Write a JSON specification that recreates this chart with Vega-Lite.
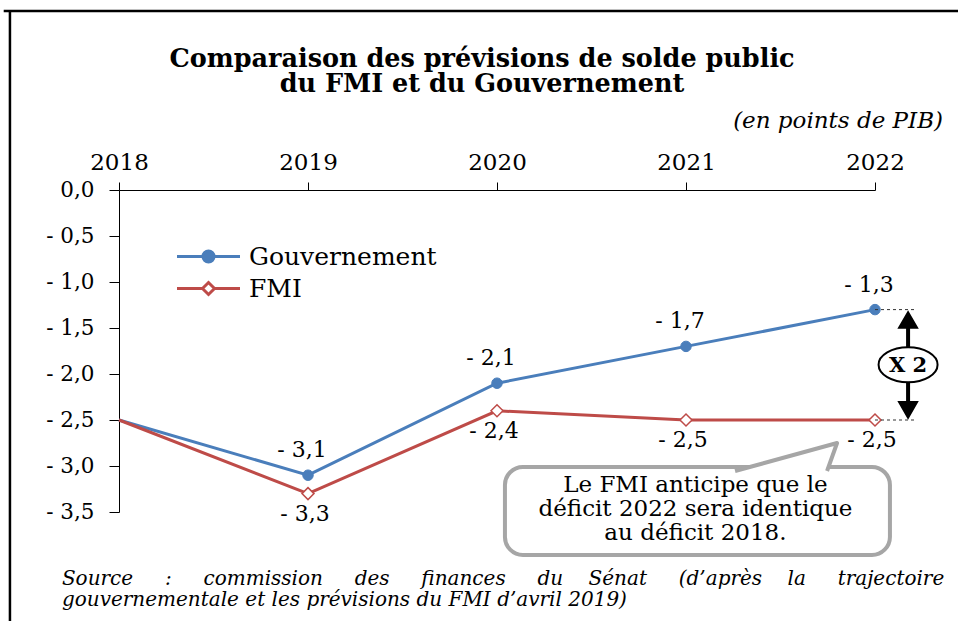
{
  "$schema": "https://vega.github.io/schema/vega-lite/v6.json",
  "width": 756,
  "height": 322,
  "autosize": {"type": "none"},
  "padding": {"left": 119, "top": 190, "right": 83, "bottom": 109},
  "background": "white",
  "title": {
    "text": ["Comparaison des prévisions de solde public", "du FMI et du Gouvernement"],
    "font": "DejaVu Serif",
    "fontWeight": "bold",
    "fontSize": 25.5,
    "lineHeight": 25,
    "anchor": "middle",
    "frame": "group",
    "dx": -15,
    "offset": -88,
    "color": "black"
  },
  "datasets": {
    "series": [
      {"year": 2018, "value": -2.5, "series": "Gouvernement"},
      {"year": 2019, "value": -3.1, "series": "Gouvernement"},
      {"year": 2020, "value": -2.1, "series": "Gouvernement"},
      {"year": 2021, "value": -1.7, "series": "Gouvernement"},
      {"year": 2022, "value": -1.3, "series": "Gouvernement"},
      {"year": 2018, "value": -2.5, "series": "FMI"},
      {"year": 2019, "value": -3.3, "series": "FMI"},
      {"year": 2020, "value": -2.4, "series": "FMI"},
      {"year": 2021, "value": -2.5, "series": "FMI"},
      {"year": 2022, "value": -2.5, "series": "FMI"}
    ]
  },
  "layer": [
    {
      "data": {"values": [
        {"x": 2017.39, "x2": 2022.7, "y": 1.946, "y2": 1.946},
        {"x": 2017.423, "x2": 2017.423, "y": 1.946, "y2": -4.9}
      ]},
      "mark": {"type": "rule", "color": "black", "strokeWidth": 2.5},
      "encoding": {
        "x": {"field": "x", "type": "quantitative", "title": null, "scale": {"domain": [2018, 2022], "nice": false, "zero": false}},
        "x2": {"field": "x2"},
        "y": {"field": "y", "type": "quantitative", "title": null, "scale": {"domain": [-3.5, 0], "nice": false, "zero": false}},
        "y2": {"field": "y2"}
      }
    },
    {
      "data": {"name": "series"},
      "mark": {"type": "line", "strokeWidth": 3},
      "encoding": {
        "x": {
          "field": "year", "type": "quantitative", "title": null,
          "scale": {"domain": [2018, 2022], "nice": false, "zero": false},
          "axis": {
            "orient": "top", "values": [2018, 2019, 2020, 2021, 2022], "format": "d",
            "labelFont": "DejaVu Serif", "labelFontSize": 23, "labelColor": "black",
            "tickSize": 8, "tickColor": "black", "domainColor": "black",
            "labelPadding": 8, "grid": false, "labelFlush": false
          }
        },
        "y": {
          "field": "value", "type": "quantitative", "title": null,
          "scale": {"domain": [-3.5, 0], "nice": false, "zero": false},
          "axis": {
            "values": [0, -0.5, -1, -1.5, -2, -2.5, -3, -3.5], "format": ".1f",
            "labelFont": "DejaVu Serif", "labelFontSize": 21.5, "labelColor": "black",
            "tickSize": 10, "tickColor": "black", "domainColor": "black",
            "labelPadding": 15, "grid": false, "labelFlush": false
          }
        },
        "color": {
          "field": "series", "type": "nominal",
          "scale": {"domain": ["Gouvernement", "FMI"], "range": ["#4A7EBB", "#BE4B48"]},
          "legend": {
            "title": null,
            "orient": "none",
            "legendX": 77,
            "legendY": 54,
            "padding": 0,
            "symbolSize": 400,
            "symbolStrokeWidth": 3,
            "symbolOpacity": 1,
            "labelOffset": 28,
            "labelFont": "DejaVu Serif",
            "labelFontSize": 25,
            "labelColor": "black",
            "rowPadding": 6,
            "labelLimit": 400,
            "encode": {
              "symbols": {
                "update": {
                  "shape": {"signal": "datum.value === 'FMI' ? 'M-3.15,0L-0.6,0M0.6,0L3.15,0M-0.6,0L0,-0.6L0.6,0L0,0.6Z' : 'M-3.15,0L3.15,0M0.55,0A0.55,0.55,0,1,1,-0.55,0A0.55,0.55,0,1,1,0.55,0Z'"},
                  "fill": {"signal": "datum.value === 'FMI' ? 'white' : '#4A7EBB'"},
                  "fillOpacity": {"value": 1}
                }
              }
            }
          }
        }
      }
    },
    {
      "data": {"name": "series"},
      "transform": [{"filter": "datum.series === 'Gouvernement' && datum.year > 2018"}],
      "mark": {"type": "point", "shape": "circle", "filled": true, "fill": "#4A7EBB", "stroke": "#4A7EBB", "strokeWidth": 1, "size": 110, "opacity": 1},
      "encoding": {
        "x": {"field": "year", "type": "quantitative", "title": null, "scale": {"domain": [2018, 2022], "nice": false, "zero": false}},
        "y": {"field": "value", "type": "quantitative", "title": null, "scale": {"domain": [-3.5, 0], "nice": false, "zero": false}}
      }
    },
    {
      "data": {"name": "series"},
      "transform": [{"filter": "datum.series === 'FMI' && datum.year > 2018"}],
      "mark": {"type": "point", "shape": "diamond", "filled": true, "fill": "white", "stroke": "#BE4B48", "strokeWidth": 1.5, "size": 144, "opacity": 1},
      "encoding": {
        "x": {"field": "year", "type": "quantitative", "title": null, "scale": {"domain": [2018, 2022], "nice": false, "zero": false}},
        "y": {"field": "value", "type": "quantitative", "title": null, "scale": {"domain": [-3.5, 0], "nice": false, "zero": false}}
      }
    },
    {
      "data": {"name": "series"},
      "transform": [{"filter": "datum.series === 'Gouvernement' && datum.year > 2018"}],
      "mark": {"type": "text", "font": "DejaVu Serif", "fontSize": 22, "color": "black", "dy": -25, "dx": -6, "baseline": "middle", "align": "center"},
      "encoding": {
        "x": {"field": "year", "type": "quantitative", "title": null, "scale": {"domain": [2018, 2022], "nice": false, "zero": false}},
        "y": {"field": "value", "type": "quantitative", "title": null, "scale": {"domain": [-3.5, 0], "nice": false, "zero": false}},
        "text": {"field": "value", "type": "quantitative", "format": ".1f"}
      }
    },
    {
      "data": {"name": "series"},
      "transform": [{"filter": "datum.series === 'FMI' && datum.year > 2018"}],
      "mark": {"type": "text", "font": "DejaVu Serif", "fontSize": 22, "color": "black", "dy": 20, "dx": -3, "baseline": "middle", "align": "center"},
      "encoding": {
        "x": {"field": "year", "type": "quantitative", "title": null, "scale": {"domain": [2018, 2022], "nice": false, "zero": false}},
        "y": {"field": "value", "type": "quantitative", "title": null, "scale": {"domain": [-3.5, 0], "nice": false, "zero": false}},
        "text": {"field": "value", "type": "quantitative", "format": ".1f"}
      }
    },
    {
      "data": {"values": [
        {"x": 2022, "x2": 2022.21, "y": -1.3},
        {"x": 2022, "x2": 2022.21, "y": -2.5}
      ]},
      "mark": {"type": "rule", "color": "#333333", "strokeWidth": 1, "strokeDash": [3, 3]},
      "encoding": {
        "x": {"field": "x", "type": "quantitative", "title": null, "scale": {"domain": [2018, 2022], "nice": false, "zero": false}},
        "x2": {"field": "x2"},
        "y": {"field": "y", "type": "quantitative", "title": null, "scale": {"domain": [-3.5, 0], "nice": false, "zero": false}}
      }
    },
    {
      "data": {"values": [{"x": 2022.175, "y": -1.42, "y2": -2.38}]},
      "mark": {"type": "rule", "color": "black", "strokeWidth": 4},
      "encoding": {
        "x": {"field": "x", "type": "quantitative", "title": null, "scale": {"domain": [2018, 2022], "nice": false, "zero": false}},
        "y": {"field": "y", "type": "quantitative", "title": null, "scale": {"domain": [-3.5, 0], "nice": false, "zero": false}},
        "y2": {"field": "y2"}
      }
    },
    {
      "data": {"values": [
        {"x": 2022.175, "y": -1.413, "head": "haut"},
        {"x": 2022.175, "y": -2.39, "head": "bas"}
      ]},
      "mark": {"type": "point", "filled": true, "fill": "black", "stroke": "black", "size": 324, "opacity": 1},
      "encoding": {
        "x": {"field": "x", "type": "quantitative", "title": null, "scale": {"domain": [2018, 2022], "nice": false, "zero": false}},
        "y": {"field": "y", "type": "quantitative", "title": null, "scale": {"domain": [-3.5, 0], "nice": false, "zero": false}},
        "shape": {"field": "head", "type": "nominal", "scale": {"domain": ["haut", "bas"], "range": ["triangle-up", "triangle-down"]}, "legend": null}
      }
    },
    {
      "data": {"values": [{"x": 2022.175, "y": -1.9, "label": "X 2"}]},
      "layer": [
        {
          "mark": {"type": "point", "shape": "M-1,0A1,0.593,0,1,1,1,0A1,0.593,0,1,1,-1,0Z", "size": 3481, "filled": true, "fill": "white", "stroke": "black", "strokeWidth": 2, "opacity": 1}
        },
        {
          "mark": {"type": "text", "font": "DejaVu Serif", "fontWeight": "bold", "fontSize": 21, "color": "black", "baseline": "middle", "align": "center", "dy": 1},
          "encoding": {"text": {"field": "label"}}
        }
      ],
      "encoding": {
        "x": {"field": "x", "type": "quantitative", "title": null, "scale": {"domain": [2018, 2022], "nice": false, "zero": false}},
        "y": {"field": "y", "type": "quantitative", "title": null, "scale": {"domain": [-3.5, 0], "nice": false, "zero": false}}
      }
    },
    {
      "data": {"values": [{"x": 2020.042, "x2": 2022.079, "y": -3.011, "y2": -3.967}]},
      "mark": {"type": "rect", "fill": "white", "stroke": "#A6A6A6", "strokeWidth": 4, "cornerRadius": 18},
      "encoding": {
        "x": {"field": "x", "type": "quantitative", "title": null, "scale": {"domain": [2018, 2022], "nice": false, "zero": false}},
        "x2": {"field": "x2"},
        "y": {"field": "y", "type": "quantitative", "title": null, "scale": {"domain": [-3.5, 0], "nice": false, "zero": false}},
        "y2": {"field": "y2"}
      }
    },
    {
      "data": {"values": [{"x": 2021.503, "y": -3.011}]},
      "mark": {"type": "point", "shape": "M-4.6,0.4L5.6,-2.4L4.6,0.4", "size": 400, "filled": true, "fill": "white", "stroke": "#A6A6A6", "strokeWidth": 4, "opacity": 1, "strokeJoin": "round"},
      "encoding": {
        "x": {"field": "x", "type": "quantitative", "title": null, "scale": {"domain": [2018, 2022], "nice": false, "zero": false}},
        "y": {"field": "y", "type": "quantitative", "title": null, "scale": {"domain": [-3.5, 0], "nice": false, "zero": false}}
      }
    },
    {
      "data": {"values": [{"x": 2021.05, "y": -3.207, "note": "Le FMI anticipe que le\ndéficit 2022 sera identique\nau déficit 2018."}]},
      "mark": {"type": "text", "font": "DejaVu Serif", "fontSize": 23, "lineHeight": 24, "color": "black", "align": "center", "baseline": "middle", "lineBreak": "\n"},
      "encoding": {
        "x": {"field": "x", "type": "quantitative", "title": null, "scale": {"domain": [2018, 2022], "nice": false, "zero": false}},
        "y": {"field": "y", "type": "quantitative", "title": null, "scale": {"domain": [-3.5, 0], "nice": false, "zero": false}},
        "text": {"field": "note"}
      }
    },
    {
      "data": {"values": [{"x": 2022.36, "y": 0.674, "note": "(en points de PIB)"}]},
      "mark": {"type": "text", "font": "DejaVu Serif", "fontStyle": "italic", "fontSize": 23, "color": "black", "align": "right", "baseline": "alphabetic"},
      "encoding": {
        "x": {"field": "x", "type": "quantitative", "title": null, "scale": {"domain": [2018, 2022], "nice": false, "zero": false}},
        "y": {"field": "y", "type": "quantitative", "title": null, "scale": {"domain": [-3.5, 0], "nice": false, "zero": false}},
        "text": {"field": "note"}
      }
    },
    {
      "data": {"values": [{"x": 2017.698, "y": -4.293, "note": "Source\u00a0\u00a0\u00a0\u00a0\u00a0:\u00a0\u00a0\u00a0\u00a0\u00a0commission\u00a0\u00a0\u00a0\u00a0\u00a0des\u00a0\u00a0\u00a0\u00a0\u00a0finances\u00a0\u00a0\u00a0\u00a0\u00a0du\u00a0\u00a0\u00a0\u00a0Sénat\u00a0\u00a0\u00a0\u00a0\u00a0(d’après\u00a0\u00a0\u00a0\u00a0la\u00a0\u00a0\u00a0\u00a0\u00a0trajectoire\ngouvernementale et les prévisions du FMI d’avril 2019)"}]},
      "mark": {"type": "text", "font": "DejaVu Serif", "fontStyle": "italic", "fontSize": 20, "lineHeight": 21, "color": "black", "align": "left", "baseline": "alphabetic", "lineBreak": "\n"},
      "encoding": {
        "x": {"field": "x", "type": "quantitative", "title": null, "scale": {"domain": [2018, 2022], "nice": false, "zero": false}},
        "y": {"field": "y", "type": "quantitative", "title": null, "scale": {"domain": [-3.5, 0], "nice": false, "zero": false}},
        "text": {"field": "note"}
      }
    }
  ],
  "config": {
    "view": {"stroke": null},
    "font": "DejaVu Serif",
    "locale": {
      "number": {"decimal": ",", "thousands": "\u00a0", "grouping": [3], "currency": ["", "\u00a0€"], "minus": "- "}
    }
  }
}
